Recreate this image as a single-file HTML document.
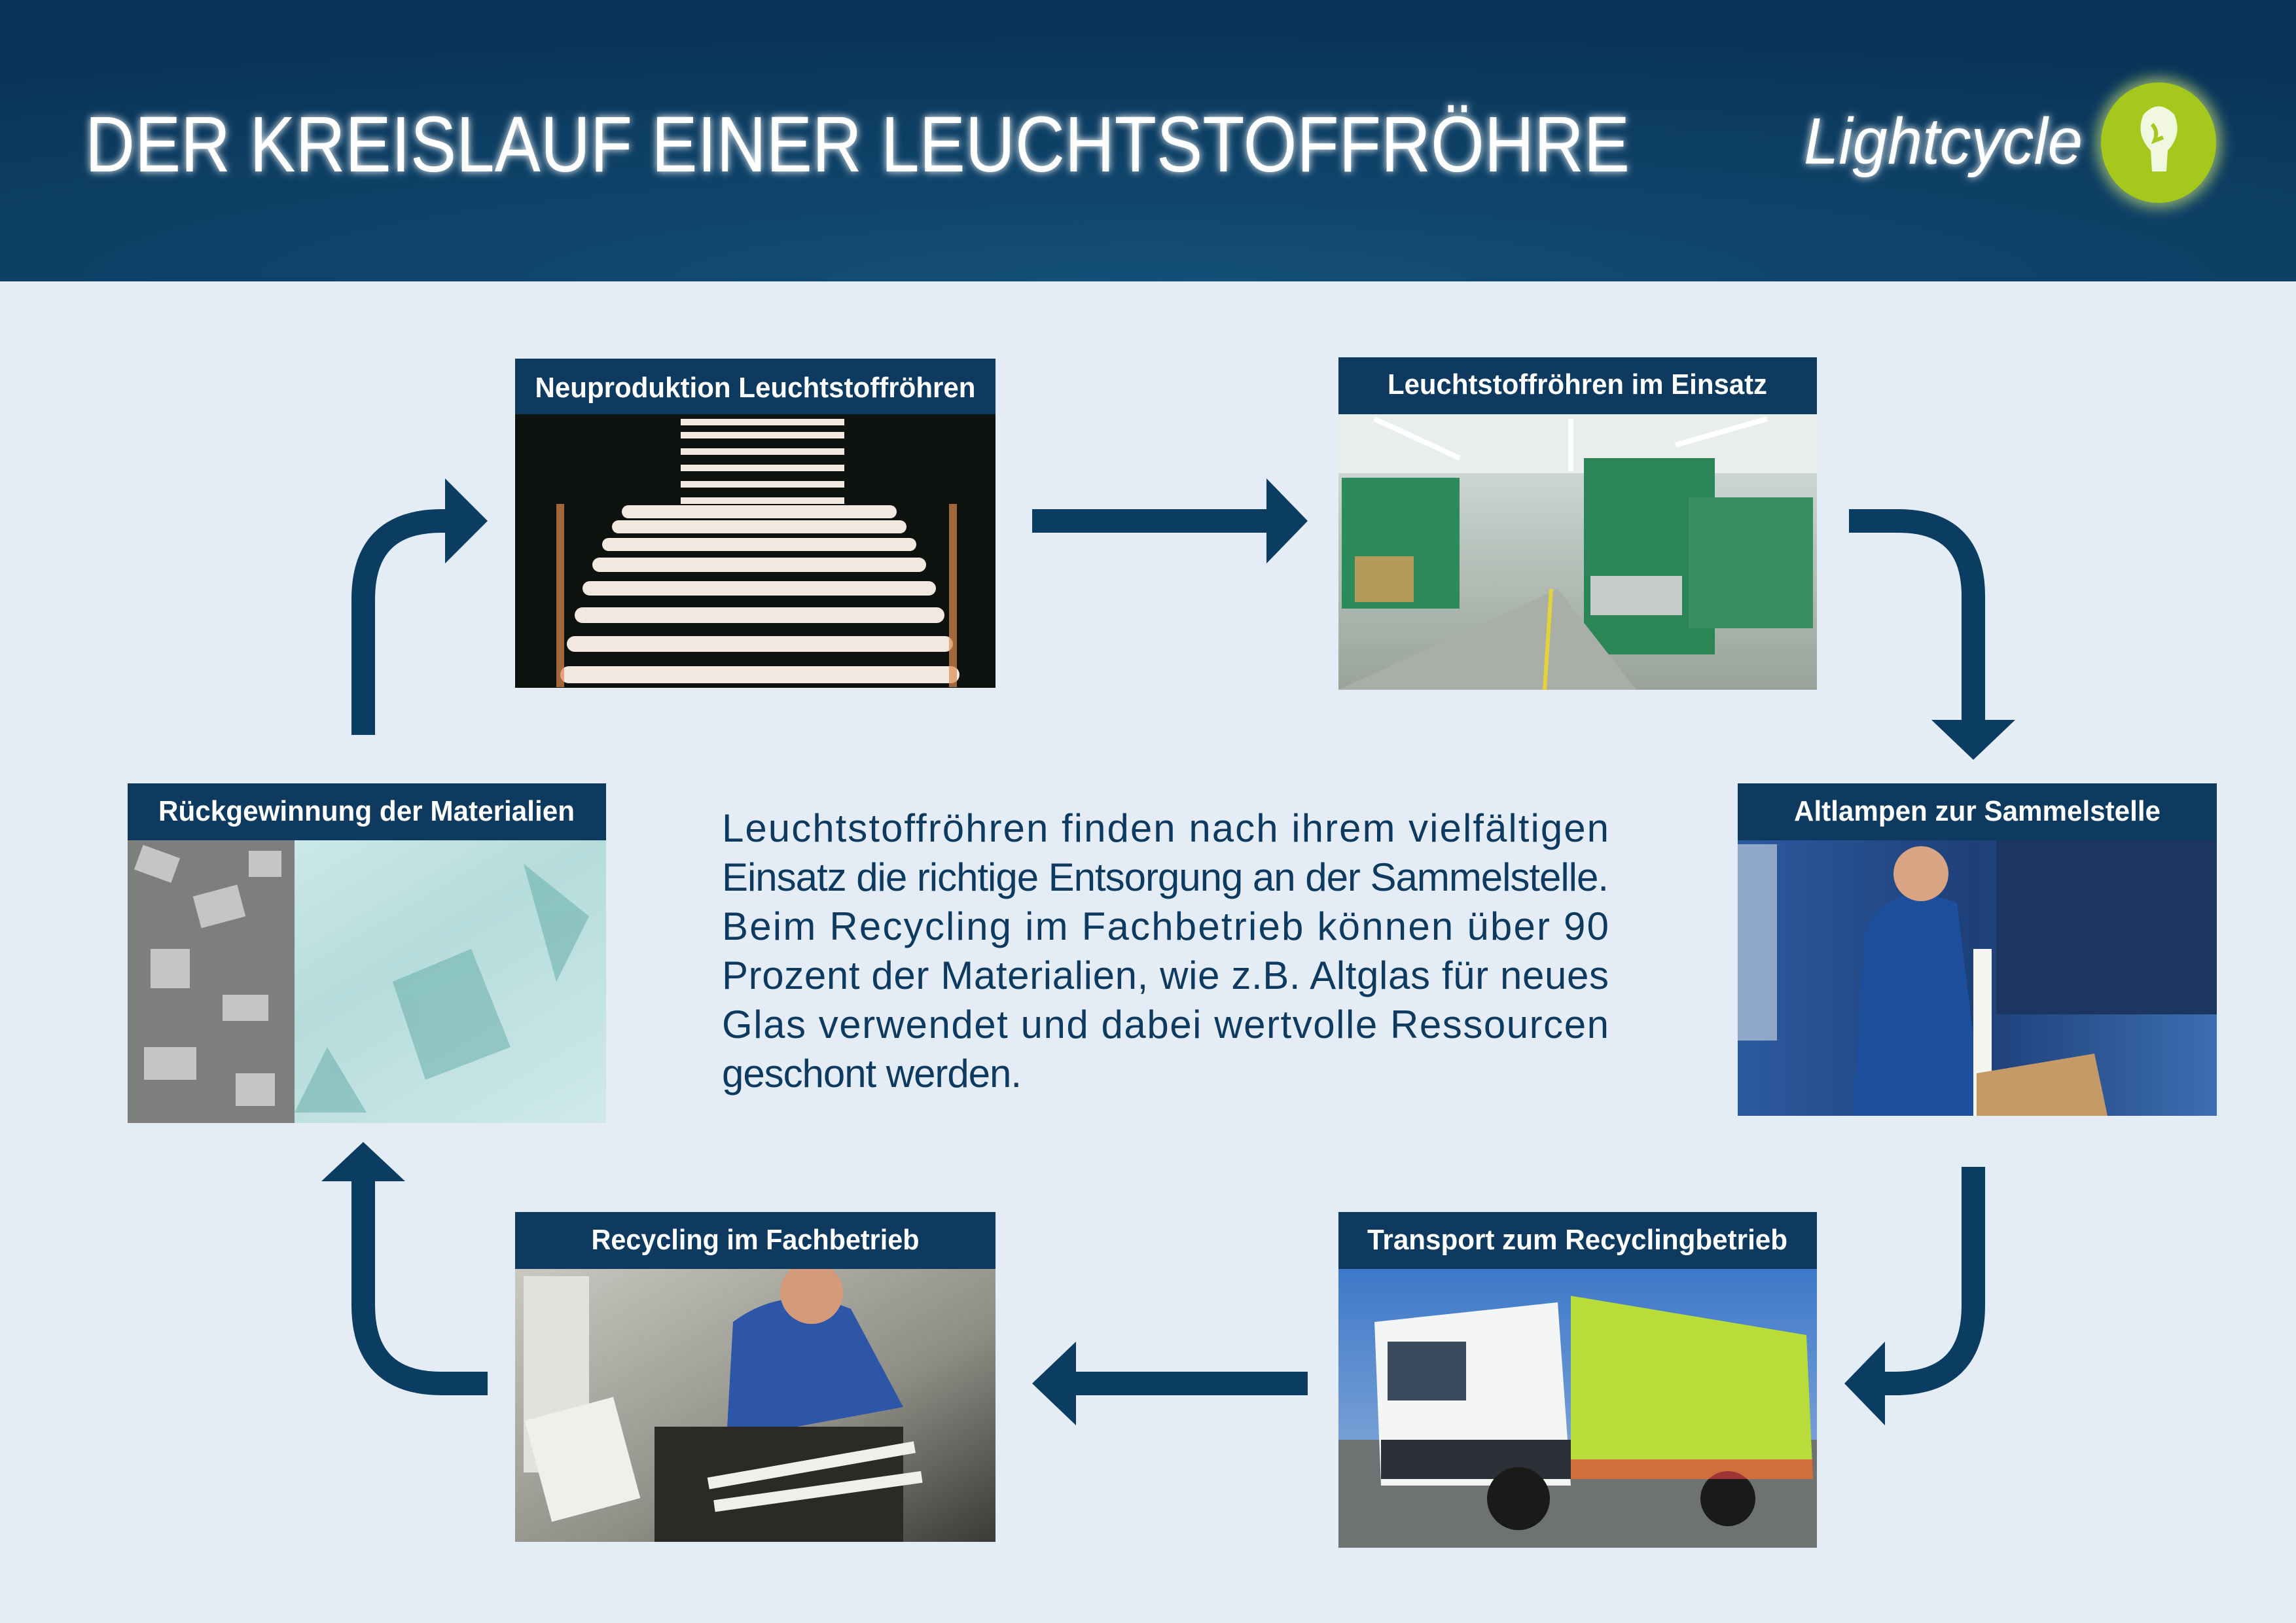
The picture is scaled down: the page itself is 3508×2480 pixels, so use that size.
<!DOCTYPE html>
<html><head><meta charset="utf-8"><style>
html,body{margin:0;padding:0;background:#e4edf6}
svg{display:block}
</style></head><body>
<svg width="3508" height="2480" viewBox="0 0 3508 2480" xmlns="http://www.w3.org/2000/svg" font-family="Liberation Sans, sans-serif">
<defs>
<radialGradient id="hdr" cx="0.5" cy="1" r="0.9">
<stop offset="0" stop-color="#134f78"/><stop offset="1" stop-color="#093356"/></radialGradient>
<filter id="glow" x="-20%" y="-50%" width="140%" height="200%"><feGaussianBlur stdDeviation="6" result="b"/><feMerge><feMergeNode in="b"/><feMergeNode in="SourceGraphic"/></feMerge></filter>
<filter id="cglow" x="-50%" y="-50%" width="200%" height="200%"><feGaussianBlur stdDeviation="10"/></filter>
<linearGradient id="fac" x1="0" y1="0" x2="0" y2="1"><stop offset="0" stop-color="#dfe6e4"/><stop offset="0.45" stop-color="#b9c6bf"/><stop offset="1" stop-color="#9aa39a"/></linearGradient>
<linearGradient id="glass" x1="0" y1="0" x2="1" y2="1"><stop offset="0" stop-color="#d8eeee"/><stop offset="0.5" stop-color="#b5dcdc"/><stop offset="1" stop-color="#cfe9ea"/></linearGradient>
<linearGradient id="sky" x1="0" y1="0" x2="0" y2="1"><stop offset="0" stop-color="#3d78c8"/><stop offset="1" stop-color="#9ab8de"/></linearGradient>
<linearGradient id="van" x1="0" y1="0" x2="1" y2="0"><stop offset="0" stop-color="#2c5aa0"/><stop offset="0.5" stop-color="#1e3f78"/><stop offset="1" stop-color="#3c6eb2"/></linearGradient>
<linearGradient id="rec" x1="0" y1="0" x2="1" y2="1"><stop offset="0" stop-color="#c9c9c2"/><stop offset="0.6" stop-color="#8e8e86"/><stop offset="1" stop-color="#3a3a36"/></linearGradient>
</defs>
<rect width="3508" height="2480" fill="#e4edf6"/>
<rect width="3508" height="430" fill="url(#hdr)"/>
<text x="130" y="262" font-size="121" fill="#ffffff" textLength="2360" lengthAdjust="spacingAndGlyphs" filter="url(#glow)">DER KREISLAUF EINER LEUCHTSTOFFRÖHRE</text>
<text x="2756" y="250" font-size="100" font-style="italic" fill="#ffffff" textLength="426" lengthAdjust="spacingAndGlyphs" filter="url(#glow)">Lightcycle</text>
<ellipse cx="3298" cy="218" rx="96" ry="100" fill="#d8f07a" opacity="0.6" filter="url(#cglow)"/>
<ellipse cx="3298" cy="218" rx="88" ry="92" fill="#a6c81c"/>
<path d="M3275 175 Q3298 150 3322 175 Q3335 205 3312 230 L3310 262 L3288 262 L3286 230 Q3262 205 3275 175 Z" fill="#f2f8e0"/>
<path d="M3288 190 Q3298 200 3292 215 L3305 210" stroke="#a6c81c" stroke-width="6" fill="none"/>

<!-- Photos -->
<!-- 1 Neuproduktion -->
<rect x="787" y="548" width="734" height="503" fill="#0d120f"/>
<g fill="#f3e8e0">
<rect x="1040" y="640" width="250" height="10"/><rect x="1040" y="660" width="250" height="10"/><rect x="1040" y="685" width="250" height="10"/><rect x="1040" y="710" width="250" height="10"/><rect x="1040" y="735" width="250" height="10"/><rect x="1040" y="760" width="250" height="10"/>
<rect x="950" y="772" width="420" height="20" rx="10"/><rect x="935" y="795" width="450" height="20" rx="10"/><rect x="920" y="822" width="480" height="20" rx="10"/><rect x="905" y="852" width="510" height="22" rx="11"/><rect x="890" y="888" width="540" height="22" rx="11"/><rect x="878" y="928" width="565" height="24" rx="12"/><rect x="866" y="972" width="590" height="24" rx="12"/><rect x="856" y="1018" width="610" height="26" rx="13"/>
</g>
<g fill="#e08a50" opacity="0.7"><rect x="850" y="770" width="12" height="280"/><rect x="1450" y="770" width="12" height="280"/></g>
<!-- 2 Einsatz -->
<rect x="2045" y="633" width="731" height="421" fill="url(#fac)"/>
<rect x="2045" y="633" width="731" height="90" fill="#e9eeec"/>
<g stroke="#ffffff" stroke-width="8"><line x1="2100" y1="640" x2="2230" y2="700"/><line x1="2400" y1="640" x2="2400" y2="720"/><line x1="2560" y1="680" x2="2700" y2="640"/></g>
<rect x="2050" y="730" width="180" height="200" fill="#2d8a5a"/>
<rect x="2420" y="700" width="200" height="300" fill="#2a8656"/>
<rect x="2580" y="760" width="190" height="200" fill="#3a8f62"/>
<rect x="2070" y="850" width="90" height="70" fill="#b59a5a"/>
<rect x="2430" y="880" width="140" height="60" fill="#c8ccc8"/>
<path d="M2045 1054 L2380 900 L2500 1054 Z" fill="#a9aea6"/>
<line x1="2360" y1="1054" x2="2370" y2="900" stroke="#e4d23a" stroke-width="6"/>
<!-- 3 Rückgewinnung -->
<rect x="195" y="1284" width="731" height="432" fill="url(#glass)"/>
<rect x="195" y="1284" width="255" height="432" fill="#7d7f7d"/>
<g fill="#c4c6c4"><rect x="210" y="1300" width="60" height="40" transform="rotate(20 240 1320)"/><rect x="300" y="1360" width="70" height="50" transform="rotate(-15 335 1385)"/><rect x="230" y="1450" width="60" height="60"/><rect x="340" y="1520" width="70" height="40"/><rect x="220" y="1600" width="80" height="50"/><rect x="360" y="1640" width="60" height="50"/><rect x="380" y="1300" width="50" height="40"/></g>
<g fill="#5fa9a6" opacity="0.5"><polygon points="600,1500 720,1450 780,1600 650,1650"/><polygon points="800,1320 900,1400 850,1500"/><polygon points="500,1600 560,1700 450,1700"/></g>
<!-- 4 Altlampen -->
<rect x="2655" y="1284" width="732" height="421" fill="url(#van)"/>
<rect x="2655" y="1290" width="60" height="300" fill="#8fa8c8"/>
<rect x="3050" y="1280" width="337" height="270" fill="#1b3660"/>
<path d="M2850 1420 Q2890 1340 2990 1380 L3030 1705 L2830 1705 Z" fill="#1d4f9c"/>
<circle cx="2935" cy="1335" r="42" fill="#d8a484"/>
<rect x="3015" y="1450" width="28" height="255" fill="#f4f4f0"/>
<polygon points="3020,1640 3200,1610 3220,1705 3020,1705" fill="#c69a66"/>
<!-- 5 Recycling -->
<rect x="787" y="1939" width="734" height="417" fill="url(#rec)"/>
<rect x="800" y="1950" width="100" height="300" fill="#e2e2dc"/>
<path d="M1120 2020 Q1200 1960 1300 2000 L1380 2150 L1110 2200 Z" fill="#2d56a8"/>
<circle cx="1240" cy="1975" r="48" fill="#d49a7a"/>
<rect x="1000" y="2180" width="380" height="176" fill="#2b2a26"/>
<g fill="#efefec"><rect x="1080" y="2230" width="320" height="18" transform="rotate(-10 1240 2240)"/><rect x="1090" y="2270" width="320" height="18" transform="rotate(-8 1250 2280)"/><rect x="820" y="2150" width="140" height="160" transform="rotate(-15 890 2230)"/></g>
<!-- 6 Transport -->
<rect x="2045" y="1939" width="731" height="426" fill="url(#sky)"/>
<rect x="2045" y="2200" width="731" height="165" fill="#6e7272"/>
<polygon points="2400,1980 2760,2040 2770,2260 2400,2260" fill="#b8dc3a"/>
<polygon points="2100,2020 2380,1990 2400,2270 2110,2270" fill="#f4f6f6"/>
<rect x="2120" y="2050" width="120" height="90" fill="#3a4b5e"/>
<rect x="2110" y="2200" width="290" height="60" fill="#2c3036"/>
<circle cx="2320" cy="2290" r="48" fill="#1a1a1a"/><circle cx="2640" cy="2290" r="42" fill="#1a1a1a"/>
<rect x="2400" y="2230" width="370" height="30" fill="#d84040" opacity="0.7"/>

<!-- Header bars -->
<g fill="#0e3a60">
<rect x="787" y="548" width="734" height="85"/>
<rect x="2045" y="546" width="731" height="87"/>
<rect x="195" y="1197" width="731" height="87"/>
<rect x="2655" y="1197" width="732" height="87"/>
<rect x="787" y="1852" width="734" height="87"/>
<rect x="2045" y="1852" width="731" height="87"/>
</g>
<g fill="#ffffff" font-weight="bold" font-size="44" text-anchor="middle">
<text x="1154" y="607" textLength="673" lengthAdjust="spacingAndGlyphs">Neuproduktion Leuchtstoffröhren</text>
<text x="2410" y="602" textLength="580" lengthAdjust="spacingAndGlyphs">Leuchtstoffröhren im Einsatz</text>
<text x="560" y="1254" textLength="636" lengthAdjust="spacingAndGlyphs">Rückgewinnung der Materialien</text>
<text x="3021" y="1254" textLength="560" lengthAdjust="spacingAndGlyphs">Altlampen zur Sammelstelle</text>
<text x="1154" y="1909" textLength="501" lengthAdjust="spacingAndGlyphs">Recycling im Fachbetrieb</text>
<text x="2410" y="1909" textLength="642" lengthAdjust="spacingAndGlyphs">Transport zum Recyclingbetrieb</text>
</g>

<!-- Paragraph -->
<g fill="#0d3a5e" font-size="60">
<text x="1103" y="1286" textLength="1355" lengthAdjust="spacing">Leuchtstoffröhren finden nach ihrem vielfältigen</text>
<text x="1103" y="1361" textLength="1355" lengthAdjust="spacing">Einsatz die richtige Entsorgung an der Sammelstelle.</text>
<text x="1103" y="1436" textLength="1355" lengthAdjust="spacing">Beim Recycling im Fachbetrieb können über 90</text>
<text x="1103" y="1511" textLength="1355" lengthAdjust="spacing">Prozent der Materialien, wie z.B. Altglas für neues</text>
<text x="1103" y="1586" textLength="1355" lengthAdjust="spacing">Glas verwendet und dabei wertvolle Ressourcen</text>
<text x="1103" y="1661" textLength="458" lengthAdjust="spacing">geschont werden.</text>
</g>

<!-- Arrows -->
<g stroke="#0b3d63" stroke-width="36" fill="none">
<path d="M1577 796 H1940"/>
<path d="M2825 796 H2900 Q3015 796 3015 911 V1105"/>
<path d="M3015 1783 V1995 Q3015 2114 2895 2114 H2875"/>
<path d="M1998 2114 H1640"/>
<path d="M745 2114 H675 Q555 2114 555 1994 V1800"/>
<path d="M555 1123 V916 Q555 796 675 796 H690"/>
</g>
<g fill="#0b3d63">
<polygon points="1935,731 1998,796 1935,861"/>
<polygon points="2951,1100 3015,1161 3079,1100"/>
<polygon points="2880,2050 2818,2114 2880,2178"/>
<polygon points="1644,2050 1577,2114 1644,2178"/>
<polygon points="491,1805 555,1745 619,1805"/>
<polygon points="680,731 745,796 680,861"/>
</g>
</svg>
</body></html>
